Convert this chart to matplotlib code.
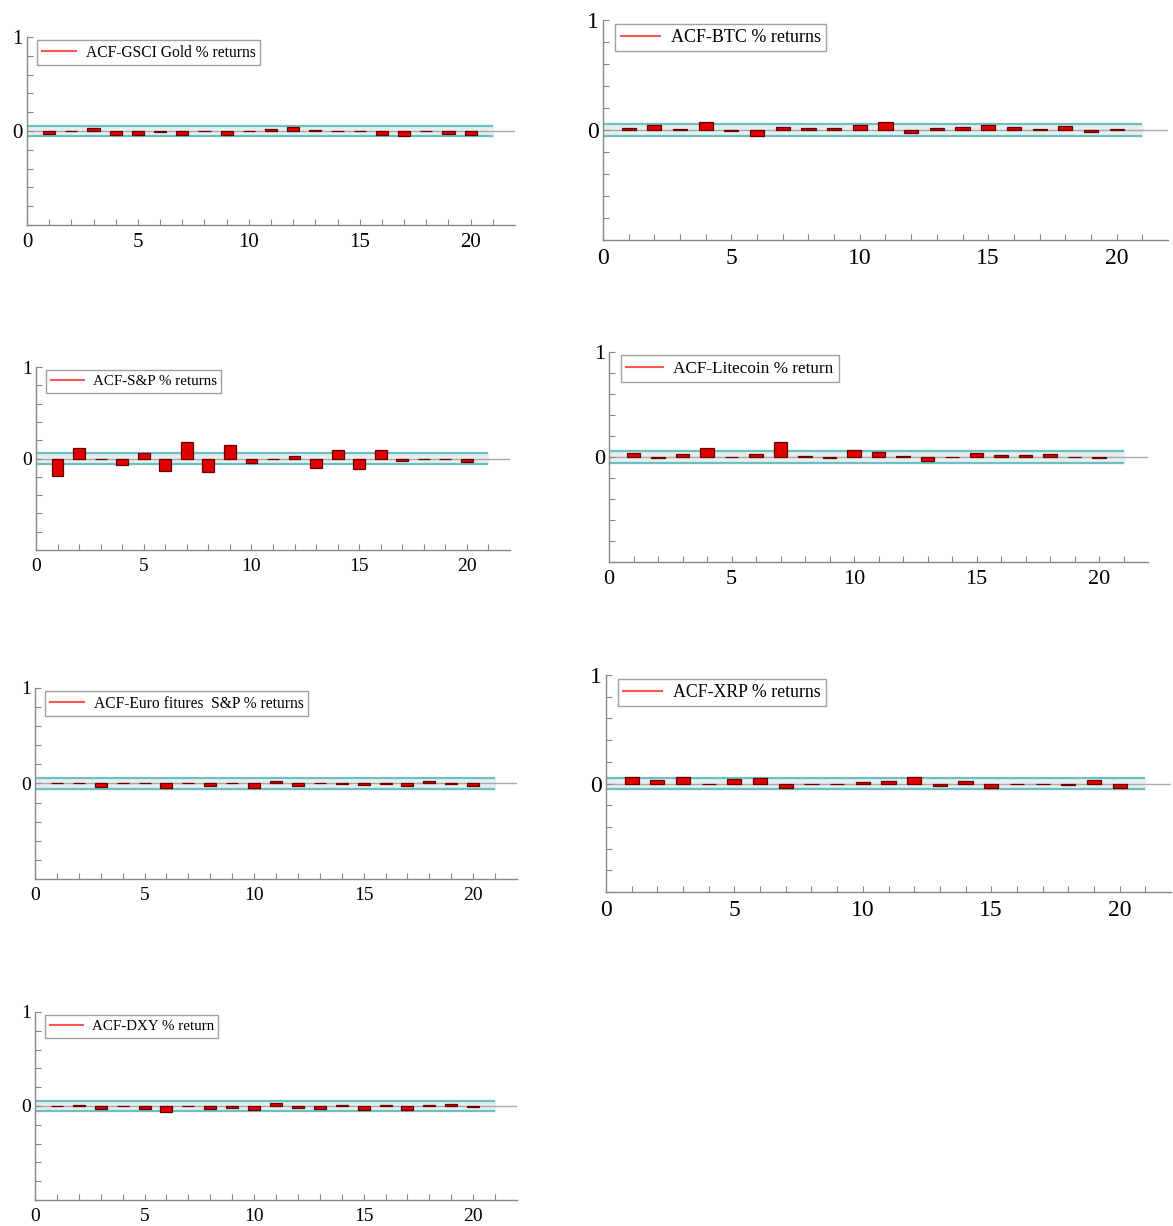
import matplotlib
matplotlib.use("Agg")
import matplotlib.pyplot as plt
from matplotlib.lines import Line2D
import numpy as np

plt.rcParams['font.family'] = ['Liberation Serif', 'DejaVu Serif']

lags = list(range(1, 21))

titles = [
    "ACF-GSCI Gold % returns",
    "ACF-BTC % returns",
    "ACF-S&P % returns",
    "ACF-Litecoin % return",
    "ACF-Euro fitures  S&P % returns",
    "ACF-XRP % returns",
    "ACF-DXY % return",
]

acf_gold = [-0.035, -0.005, 0.035, -0.04, -0.04, -0.01, -0.04, 0.005, -0.04, 0.005,
            0.025, 0.04, 0.01, 0.005, 0.0, -0.04, -0.05, 0.005, -0.03, -0.04]
acf_btc = [0.02, 0.05, 0.005, 0.07, -0.01, -0.05, 0.03, 0.02, 0.02, 0.045,
           0.07, -0.025, 0.02, 0.03, 0.05, 0.03, 0.01, 0.04, -0.02, 0.01]
acf_sp = [-0.19, 0.12, -0.01, -0.07, 0.055, -0.135, 0.185, -0.15, 0.15, -0.05,
          -0.005, 0.03, -0.1, 0.09, -0.12, 0.09, -0.03, -0.005, -0.005, -0.035]
acf_ltc = [0.04, -0.01, 0.03, 0.09, 0.0, 0.03, 0.14, 0.005, -0.01, 0.07,
           0.045, 0.005, -0.04, 0.0, 0.04, 0.02, 0.02, 0.025, 0.0, -0.01]
acf_euro = [0.0, 0.005, -0.035, 0.0, 0.005, -0.045, 0.005, -0.025, 0.0, -0.05,
            0.03, -0.03, 0.005, -0.01, -0.02, -0.01, -0.03, 0.03, -0.005, -0.03]
acf_xrp = [0.06, 0.035, 0.06, 0.0, 0.045, 0.05, -0.04, 0.0, 0.0, 0.01,
           0.025, 0.06, -0.02, 0.025, -0.04, 0.0, 0.0, -0.01, 0.03, -0.04]
acf_dxy = [0.005, 0.015, -0.03, -0.005, -0.03, -0.06, 0.005, -0.035, -0.02, -0.04,
           0.03, -0.02, -0.03, 0.01, -0.04, 0.01, -0.04, 0.01, 0.02, -0.015]

series = [acf_gold, acf_btc, acf_sp, acf_ltc, acf_euro, acf_xrp, acf_dxy]
band = 0.055

W, H = 1173, 1226
fig = plt.figure(figsize=(W / 100, H / 100), dpi=100)

# pixel boxes: left, top, right, bottom
boxes = [
    (27, 37, 515, 225),
    (603, 20, 1168, 240),
    (36, 367, 510, 550),
    (609, 352, 1148, 562),
    (35, 688, 517, 879),
    (606, 675, 1171, 892),
    (35, 1012, 517, 1200),
]
fsizes = [15, 17, 14, 16, 14, 17, 14]
legsizes = [11.2, 13.0, 10.8, 12.3, 11.2, 12.8, 10.8]

for vals, title, (l, t, r, b), fs, lfs in zip(series, titles, boxes, fsizes, legsizes):
    ax = fig.add_axes([l / W, 1 - b / H, (r - l) / W, (b - t) / H])
    ax.fill_between([0, 21], -band, band, color='#e6eeee', zorder=0)
    ax.axhline(0, color='#aaaaaa', lw=1.0, zorder=1)
    ax.hlines([band, -band], 0, 21, color='#6cc0c0', lw=1.6, zorder=2)
    ax.bar(lags, vals, width=0.55, color='#e00000', edgecolor='#6a0000',
           linewidth=0.9, zorder=3)
    ax.set_xlim(0, 22)
    ax.set_ylim(-1, 1)
    for s in ['top', 'right']:
        ax.spines[s].set_visible(False)
    for s in ['left', 'bottom']:
        ax.spines[s].set_color('#888888')
        ax.spines[s].set_linewidth(1.0)
    xt = list(range(0, 22))
    ax.set_xticks(xt)
    ax.set_xticklabels([str(i) if i % 5 == 0 else '' for i in xt])
    yt = np.round(np.arange(-1, 1.01, 0.2), 1)
    ax.set_yticks(yt)
    ax.set_yticklabels(['1' if abs(v - 1) < 1e-6 else ('0' if abs(v) < 1e-6 else '') for v in yt])
    ax.tick_params(axis='both', direction='in', length=4, color='#888888',
                   labelsize=fs, pad=3)
    ax.tick_params(axis='x', pad=6)
    leg = ax.legend([Line2D([0], [0], color='#ff5555', lw=1.5)], [title],
                    loc='upper left', bbox_to_anchor=(0.015, 1.0), fontsize=lfs,
                    frameon=True, fancybox=False, handlelength=2.2,
                    borderpad=0.3, handletextpad=0.6, borderaxespad=0.2)
    leg.get_frame().set_edgecolor('#888888')
    leg.get_frame().set_linewidth(1.0)

fig.savefig('out.png', dpi=100)
